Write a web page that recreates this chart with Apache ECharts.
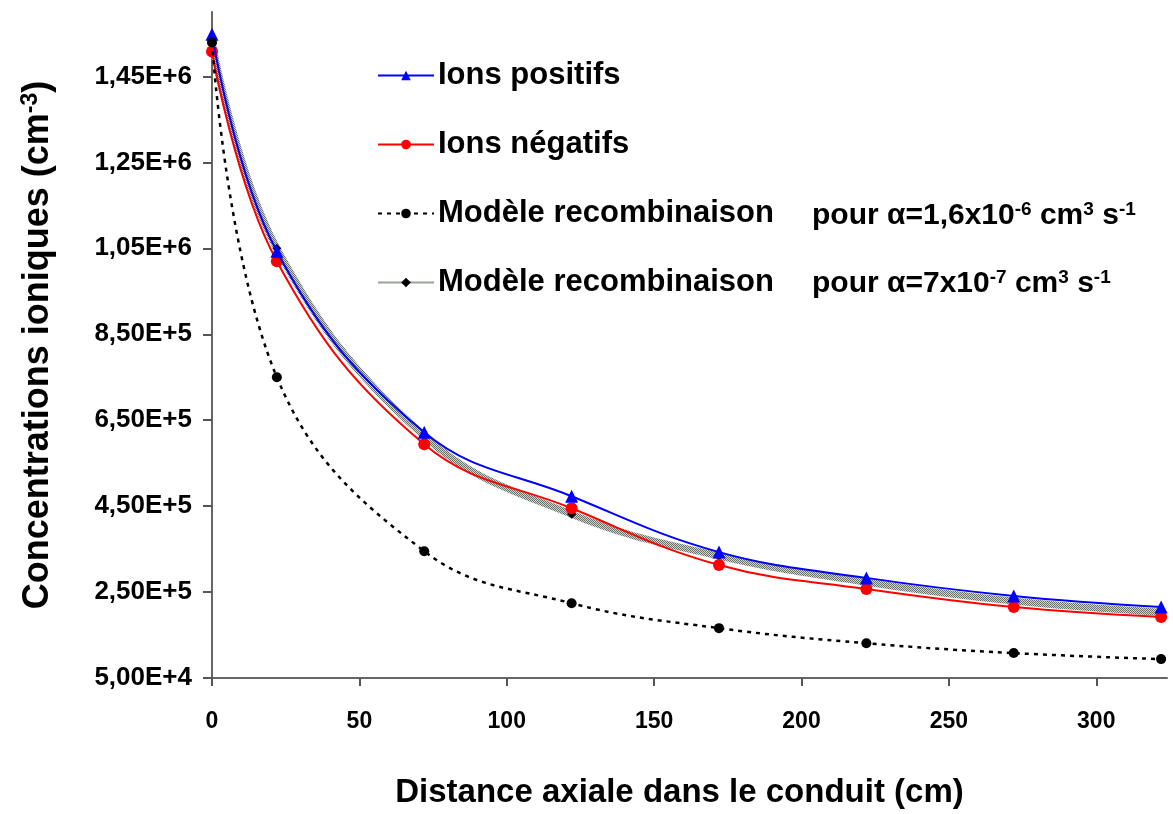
<!DOCTYPE html>
<html>
<head>
<meta charset="utf-8">
<script src="https://cdn.jsdelivr.net/npm/echarts@6/dist/echarts.min.js"></script>
<style>
  html, body { margin: 0; padding: 0; background: #fff; }
  #main { width: 1173px; height: 814px; }
</style>
</head>
<body>
<div id="main"></div>
<script>
// distance axiale (cm)
var distances = [0, 22, 72, 122, 172, 222, 272, 322];
// concentrations mesurees / modeles (cm-3)
var ionsPositifs = [1548000, 1043000, 622000, 473000, 343000, 283000, 241000, 215000];
var ionsNegatifs = [1508000, 1020000, 594000, 445000, 313000, 257000, 215000, 192000];
var modele16 = [1529000, 750000, 345000, 224000, 166000, 131000, 108000, 94000];
var modele7 = [1529000, 1050000, 613000, 431000, 334000, 273000, 229000, 203000];
// graduations
var yTicks = [50000, 250000, 450000, 650000, 850000, 1050000, 1250000, 1450000];
var xTicks = [0, 50, 100, 150, 200, 250, 300];

var FONT = "'Liberation Sans', Arial, sans-serif";

function pairs(ys) {
    return distances.map(function (x, i) { return [x, ys[i]]; });
}

// motif grise hachuree pour la bande du second modele
function hatch() {
    var c = document.createElement('canvas');
    c.width = 2; c.height = 2;
    var ctx = c.getContext('2d');
    ctx.fillStyle = '#ccd6cc';
    ctx.fillRect(0, 0, 2, 2);
    ctx.fillStyle = '#6a706a';
    ctx.fillRect(0, 0, 1, 1);
    ctx.fillRect(1, 1, 1, 1);
    return c;
}

var myChart = echarts.init(document.getElementById('main'));

var option = {
    backgroundColor: '#fff',
    animation: false,
    grid: { left: 212, right: 6, top: 12, bottom: 135 },
    legend: {
        orient: 'vertical',
        left: 372,
        top: 55,
        itemWidth: 56,
        itemHeight: 12,
        itemGap: 38,
        data: ['Ions positifs', 'Ions négatifs', 'Modèle recombinaison', 'Modèle recombinaison\u00a0'],
        textStyle: { fontFamily: FONT, fontWeight: 'bold', fontSize: 31, color: '#000', padding: [0, 0, 0, -1] }
    },
    graphic: [
        {
            type: 'text', left: 812, top: 200,
            style: {
                text: 'pour α=1,6x10{s|-6} cm{s|3} s{s|-1}',
                font: 'bold 30px ' + FONT, fill: '#000',
                rich: { s: { font: 'bold 19px ' + FONT, verticalAlign: 'top', padding: [0, 0, 12, 0] } }
            }
        },
        {
            type: 'text', left: 812, top: 268,
            style: {
                text: 'pour α=7x10{s|-7} cm{s|3} s{s|-1}',
                font: 'bold 30px ' + FONT, fill: '#000',
                rich: { s: { font: 'bold 19px ' + FONT, verticalAlign: 'top', padding: [0, 0, 12, 0] } }
            }
        }
    ],
    xAxis: {
        type: 'value',
        min: 0,
        max: 324,
        name: 'Distance axiale dans le conduit (cm)',
        nameLocation: 'middle',
        nameGap: 98,
        nameTextStyle: { fontFamily: FONT, fontWeight: 'bold', fontSize: 33, color: '#000', padding: [0, 20, 0, 0] },
        splitLine: { show: false },
        axisLine: { lineStyle: { color: '#666', width: 2 } },
        axisTick: { length: 8, lineStyle: { color: '#555', width: 2 }, customValues: xTicks },
        axisLabel: { customValues: xTicks, margin: 32, fontFamily: FONT, fontWeight: 'bold', fontSize: 23, color: '#000' }
    },
    yAxis: {
        type: 'value',
        min: 50000,
        max: 1600000,
        name: 'Concentrations ioniques (cm{s|-3})',
        nameLocation: 'middle',
        nameGap: 154,
        nameTextStyle: {
            fontFamily: FONT, fontWeight: 'bold', fontSize: 36, color: '#000',
            rich: { s: { fontFamily: FONT, fontWeight: 'bold', fontSize: 23, verticalAlign: 'top', padding: [0, 0, 16, 0] } }
        },
        splitLine: { show: false },
        axisLine: { show: true, lineStyle: { color: '#666', width: 2 } },
        axisTick: { show: true, length: 9, lineStyle: { color: '#555', width: 2 }, customValues: yTicks },
        axisLabel: {
            customValues: yTicks,
            margin: 20,
            fontFamily: FONT, fontWeight: 'bold', fontSize: 26, color: '#000',
            formatter: function (v) {
                return v.toExponential(2).replace('.', ',').replace('e+', 'E+');
            }
        }
    },
    series: [
        {
            name: 'Modèle recombinaison\u00a0',
            type: 'line',
            data: pairs(modele7),
            smooth: 0.4,
            symbol: 'diamond',
            symbolSize: 9,
            itemStyle: { color: '#000' },
            lineStyle: { color: { image: hatch(), repeat: 'repeat' }, width: 7 },
            z: 1
        },
        {
            name: 'Ions négatifs',
            type: 'line',
            data: pairs(ionsNegatifs),
            smooth: 0.4,
            symbol: 'circle',
            symbolSize: 12,
            itemStyle: { color: '#ff0000' },
            lineStyle: { color: '#ff0000', width: 2 },
            z: 2
        },
        {
            name: 'Ions positifs',
            type: 'line',
            data: pairs(ionsPositifs),
            smooth: 0.4,
            symbol: 'triangle',
            symbolSize: 13,
            itemStyle: { color: '#0000ff' },
            lineStyle: { color: '#0000ff', width: 2 },
            z: 3
        },
        {
            name: 'Modèle recombinaison',
            type: 'line',
            data: pairs(modele16),
            smooth: 0.4,
            symbol: 'circle',
            symbolSize: 10,
            itemStyle: { color: '#000' },
            lineStyle: { color: '#000', width: 2.5, type: [4, 5] },
            z: 4
        }
    ]
};

myChart.setOption(option);
</script>
</body>
</html>
